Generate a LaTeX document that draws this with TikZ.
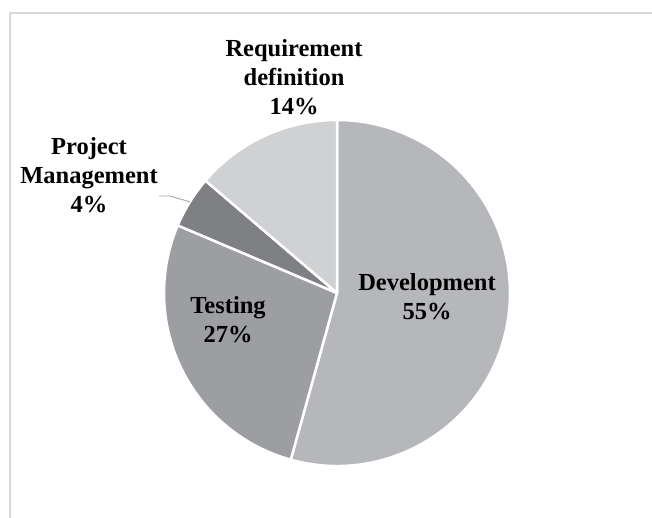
\documentclass[tikz,border=0pt]{standalone}
\usepackage{fontspec}
\setmainfont{Liberation Serif}
\usetikzlibrary{calc}
\definecolor{devgray}{RGB}{182,183,186}
\definecolor{testgray}{RGB}{157,158,162}
\definecolor{pmgray}{RGB}{127,128,132}
\definecolor{reqgray}{RGB}{208,209,211}
\definecolor{framegray}{RGB}{217,217,217}
\definecolor{leadgray}{RGB}{166,166,166}
\tikzset{
  lbl/.style={font=\bfseries\fontsize{24.5}{29}\selectfont, align=center, inner sep=0pt, anchor=base},
  slice/.style={draw=white, line width=2.5pt, line join=round}
}
\begin{document}
\begin{tikzpicture}[x=1pt,y=1pt]
	\useasboundingbox (0,0) rectangle (652,517);
	\draw[framegray, line width=1.5pt] (10,-5) |- (660,504);
	\coordinate (c) at (337,224);
	% slices, clockwise from the top
	\foreach \a\b\col in {-105.5/90/devgray, -203/-105.5/testgray, 139.5/157/pmgray, 90/139.5/reqgray}{
		\filldraw[slice, fill=\col] (c) -- ++(\a:173) arc[start angle=\a, end angle=\b, radius=173] -- cycle;
	}
	\coordinate (pmedge) at ($(c)+(148.2:173)$);
	\coordinate (pmbend) at (170,321);
	\coordinate (pmend) at (159,321);
	% labels, placed by the baseline of their last line
	\node[lbl] (req) at (294,402) {Requirement\\definition\\14\%};
	\node[lbl] (pm) at (89,304) {Project\\Management\\4\%};
	\node[lbl] (test) at (228,175) {Testing\\27\%};
	\node[lbl] (dev) at (427,198) {Development\\55\%};
	\draw[leadgray, line width=0.9pt] (pmedge) -- (pmbend) -- (pmend);
\end{tikzpicture}
\end{document}
